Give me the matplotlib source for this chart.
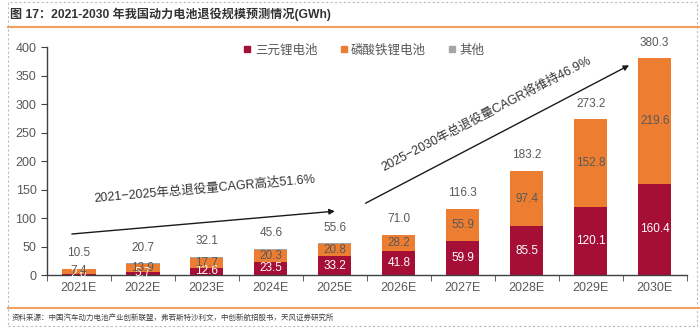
import matplotlib
matplotlib.use("Agg")
import matplotlib.pyplot as plt
import numpy as np
from matplotlib.lines import Line2D
from matplotlib.patches import Rectangle

plt.rcParams["font.family"] = ["Liberation Sans", "Noto Sans CJK SC", "DejaVu Sans"]

years = ["2021E", "2022E", "2023E", "2024E", "2025E",
         "2026E", "2027E", "2028E", "2029E", "2030E"]
ternary = [2.6, 5.7, 12.6, 23.5, 33.2, 41.8, 59.9, 85.5, 120.1, 160.4]
lfp = [7.4, 13.9, 17.7, 20.3, 20.8, 28.2, 55.9, 97.4, 152.8, 219.6]
totals = [10.5, 20.7, 32.1, 45.6, 55.6, 71.0, 116.3, 183.2, 273.2, 380.3]
other = [round(t - a - b, 1) for t, a, b in zip(totals, ternary, lfp)]

C_TER = "#A50E35"
C_LFP = "#ED7D31"
C_OTH = "#A5A5A5"
C_TXT = "#595959"

fig = plt.figure(figsize=(7.0, 3.29), dpi=100)
ax = fig.add_axes([0.067, 0.164, 0.914, 0.693])

x = np.arange(len(years))
w = 0.52
ax.bar(x, ternary, w, color=C_TER, lw=0)
ax.bar(x, lfp, w, bottom=ternary, color=C_LFP, lw=0)
ax.bar(x, other, w, bottom=np.add(ternary, lfp), color=C_OTH, lw=0)

for i in x:
    ax.text(i, ternary[i] / 2, f"{ternary[i]:.1f}", ha="center", va="center",
            color="white", fontsize=8.5)
    ax.text(i, ternary[i] + lfp[i] / 2, f"{lfp[i]:.1f}", ha="center", va="center",
            color=C_TXT, fontsize=8.5)
    ax.annotate(f"{totals[i]:.1f}", (i, totals[i]), xytext=(0, 7),
                textcoords="offset points", ha="center", va="bottom",
                color=C_TXT, fontsize=8.5)

# growth arrows with CAGR notes
ax.annotate("", xy=(4.0, 112), xytext=(-0.11, 72),
            arrowprops=dict(arrowstyle="-|>", color="#1a1a1a", lw=1.0,
                            mutation_scale=8, shrinkA=0, shrinkB=0))
ax.annotate("", xy=(8.6, 368), xytext=(4.48, 126),
            arrowprops=dict(arrowstyle="-|>", color="#1a1a1a", lw=1.0,
                            mutation_scale=8, shrinkA=0, shrinkB=0))
ax.text(1.97, 150, "2021−2025年总退役量CAGR高达51.6%", rotation=5,
        rotation_mode="anchor", ha="center", va="center", fontsize=9, color="#333333")
ax.text(6.37, 282, "2025−2030年总退役量CAGR将维持46.9%", rotation=27.5,
        rotation_mode="anchor", ha="center", va="center", fontsize=9, color="#333333")

ax.set_xlim(-0.5, len(years) - 0.5)
ax.set_ylim(0, 400)
ax.set_yticks(range(0, 401, 50))
ax.set_xticks(x)
ax.set_xticklabels(years)
ax.set_xticks(np.arange(-0.5, len(years)), minor=True)
ax.tick_params(axis="x", which="major", length=0, labelsize=9, colors=C_TXT, pad=5)
ax.tick_params(axis="x", which="minor", length=4, direction="out", color="#404040")
ax.tick_params(axis="y", length=4, direction="out", labelsize=9, colors=C_TXT,
               color="#404040")
for s in ("top", "right"):
    ax.spines[s].set_visible(False)
for s in ("left", "bottom"):
    ax.spines[s].set_color("#404040")
    ax.spines[s].set_linewidth(1.0)

handles = [Line2D([], [], marker="s", ls="", color=c, markersize=4.5)
           for c in (C_TER, C_LFP, C_OTH)]
leg = ax.legend(handles, ["三元锂电池", "磷酸铁锂电池", "其他"], ncol=3,
                loc="center", bbox_to_anchor=(0.494, 0.985), frameon=False,
                fontsize=9, handletextpad=0.1, columnspacing=1.6,
                handlelength=1.0)
for t in leg.get_texts():
    t.set_color(C_TXT)

# header, footer and dashed frame
fig.text(0.015, 0.958, "图 17：2021-2030 年我国动力电池退役规模预测情况(GWh)",
         fontsize=8.7, fontweight="bold", color="#333333", va="center")
fig.add_artist(Line2D([0.012, 1.0], [0.918, 0.918], color="#F0A060", lw=1.5))
fig.add_artist(Line2D([0.012, 1.0], [0.064, 0.064], color="#F0A060", lw=1.5))
fig.text(0.017, 0.033, "资料来源：中国汽车动力电池产业创新联盟，弗若斯特沙利文，中创新航招股书，天风证券研究所",
         fontsize=5.4, color="#404040", va="center")
fig.add_artist(Rectangle((0.012, 0.008), 0.984, 0.985, fill=False, ls=(0, (2, 2)),
                         ec="#BBBBBB", lw=0.8))

fig.savefig("out.png", dpi=100)
